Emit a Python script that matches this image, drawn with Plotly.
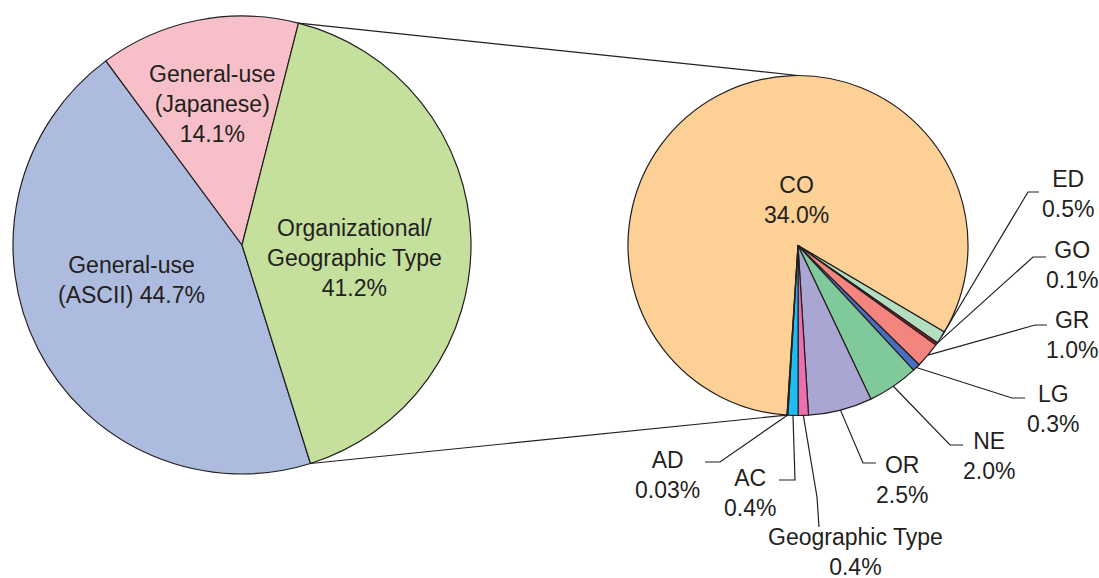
import math
import plotly.graph_objects as go

W, H = 1099, 578

# Overall split of registered names
main_names = ["General-use<br>(ASCII)", "General-use<br>(Japanese)", "Organizational/<br>Geographic Type"]
main_values = [44.7, 14.1, 41.2]
main_value_sep = [" ", "<br>", "<br>"]
main_colors = ["#adbbdf", "#f7bfc7", "#c5df9d"]

# Breakdown of the organizational / geographic type names
sub_names = ["CO", "ED", "GO", "GR", "LG", "NE", "OR", "Geographic Type", "AC", "AD"]
sub_values = [34.0, 0.5, 0.1, 1.0, 0.3, 2.0, 2.5, 0.4, 0.4, 0.03]
sub_colors = ["#fdd096", "#b3dfc0", "#a3142c", "#f4857e", "#4a6dbf",
              "#80c99a", "#aaa6d4", "#ee6fae", "#1ebdf0", "#2e3192"]

INK = "#231f20"
FONT = "Liberation Sans, Arial, sans-serif"
FS = 23

# pie geometry in pixels: centre, radius, start angle (clockwise from 12 o'clock)
LEFT = dict(cx=242, cy=245, r=229, rot=162.6)
RIGHT = dict(cx=798, cy=245.5, r=170, rot=183.7)

# label placement (pixels): text centre for the large slices
main_text_pos = [(131.5, 280), (212, 104), (354, 258)]
co_text_pos = (796, 200)
# leader line bends / ends and text centres for the small slices
leader_layout = {
    "ED": [(1028, 192), (1039, 192), (1068, 194)],
    "GO": [(1033, 257), (1046, 257), (1072, 265)],
    "GR": [(1035, 325), (1047, 325), (1072, 335)],
    "LG": [(1012, 398), (1025, 398), (1053, 409)],
    "NE": [(950, 445), (963, 445), (989, 456)],
    "OR": [(863, 463), (876, 463), (902, 480)],
    "Geographic Type": [(817, 497), (819, 527), (855, 552)],
    "AC": [(795, 480), (779, 480), (750, 493)],
    "AD": [(720, 462), (705, 462), (667, 475)],
}


def px(x, y):
    return x / W, 1 - y / H


def fmt(v):
    return f"{v:.1f}%" if round(v, 1) == v else f"{v:.2f}%"


def edge_point(g, angle):
    a = math.radians(angle)
    return g["cx"] + g["r"] * math.sin(a), g["cy"] - g["r"] * math.cos(a)


def boundaries(g, values):
    total = sum(values)
    out = [g["rot"]]
    for v in values:
        out.append(out[-1] + v / total * 360)
    return out


def domain(g):
    return dict(x=[(g["cx"] - g["r"]) / W, (g["cx"] + g["r"]) / W],
                y=[1 - (g["cy"] + g["r"]) / H, 1 - (g["cy"] - g["r"]) / H])


fig = go.Figure()
line_style = dict(color=INK, width=1.2)

fig.add_trace(go.Pie(
    labels=[n.replace("<br>", " ") for n in main_names], values=main_values,
    marker=dict(colors=main_colors, line=line_style),
    sort=False, direction="clockwise", rotation=LEFT["rot"],
    textinfo="none", hoverinfo="label+value", domain=domain(LEFT), showlegend=False,
))
fig.add_trace(go.Pie(
    labels=sub_names, values=sub_values,
    marker=dict(colors=sub_colors, line=line_style),
    sort=False, direction="clockwise", rotation=RIGHT["rot"],
    textinfo="none", hoverinfo="label+value", domain=domain(RIGHT), showlegend=False,
))

shapes = []
annotations = []


def add_path(points):
    pts = [px(x, y) for x, y in points]
    d = "M " + " L ".join(f"{x:.5f},{y:.5f}" for x, y in pts)
    shapes.append(dict(type="path", path=d, xref="paper", yref="paper",
                       line=dict(color=INK, width=1.2), layer="above"))


def add_text(text, pos):
    x, y = px(*pos)
    annotations.append(dict(text=text, x=x, y=y, xref="paper", yref="paper",
                            xanchor="center", yanchor="middle", showarrow=False,
                            font=dict(family=FONT, size=FS, color=INK)))


# connectors from the organizational slice to the breakdown pie
lb = boundaries(LEFT, main_values)
rb = boundaries(RIGHT, sub_values)
org_start, org_end = lb[2], lb[3]
add_path([edge_point(LEFT, org_start), edge_point(RIGHT, 0)])
add_path([edge_point(LEFT, org_end), edge_point(RIGHT, rb[0])])

# labels inside the large slices
for name, v, sep, pos in zip(main_names, main_values, main_value_sep, main_text_pos):
    add_text(name + sep + fmt(v), pos)
add_text(sub_names[0] + "<br>" + fmt(sub_values[0]), co_text_pos)

# leader-line labels for the small slices
for i in range(1, len(sub_names)):
    name = sub_names[i]
    mid = (rb[i] + rb[i + 1]) / 2
    bend, end, tpos = leader_layout[name]
    add_path([edge_point(RIGHT, mid), bend, end])
    add_text(name + "<br>" + fmt(sub_values[i]), tpos)

fig.update_layout(
    width=W, height=H,
    margin=dict(l=0, r=0, t=0, b=0),
    paper_bgcolor="white", plot_bgcolor="white",
    font=dict(family=FONT, size=FS, color=INK),
    shapes=shapes, annotations=annotations,
)

fig.write_html("out.html")
